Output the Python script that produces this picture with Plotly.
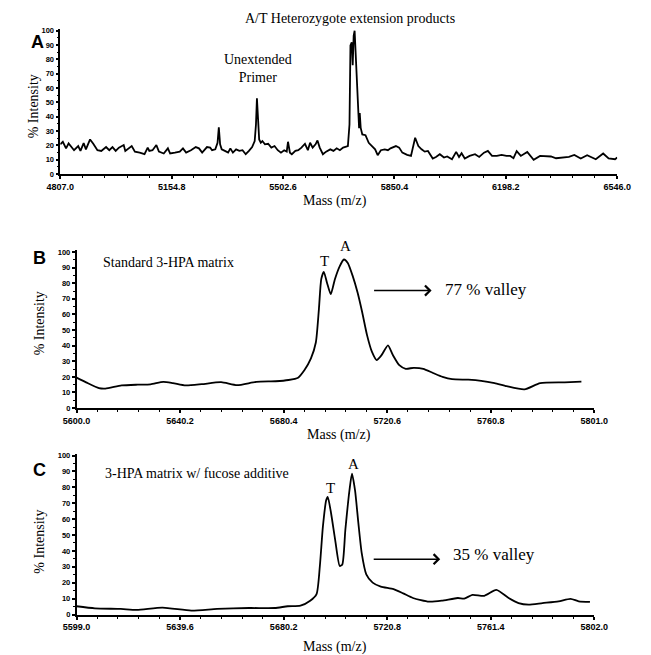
import numpy as np
import plotly.graph_objects as go

# ---------------- data ----------------
massA = [4807, 4815, 4825, 4833, 4850, 4863, 4870, 4880, 4887, 4900, 4910, 4923, 4935, 4950, 4960, 4970,
         4980, 4990, 5005, 5010, 5030, 5040, 5055, 5070, 5080, 5085, 5095, 5107, 5115, 5130, 5143, 5150,
         5165, 5180, 5190, 5200, 5215, 5230, 5240, 5250, 5265, 5275, 5281, 5291, 5298, 5302, 5306, 5311,
         5321, 5331, 5338, 5346, 5356, 5366, 5376, 5386, 5396, 5406, 5414, 5418, 5421, 5424, 5428, 5433,
         5438, 5446, 5456, 5466, 5476, 5486, 5496, 5506, 5514, 5518, 5524, 5530, 5541, 5550, 5560, 5571,
         5580, 5587, 5595, 5604, 5610, 5617, 5627, 5637, 5650, 5660, 5670, 5680, 5690, 5705, 5710, 5713,
         5717, 5720, 5723, 5726, 5730, 5735, 5740, 5742, 5745, 5750, 5760, 5770, 5780, 5790, 5798, 5808,
         5820, 5830, 5838, 5845, 5855, 5865, 5875, 5890, 5902, 5915, 5925, 5935, 5945, 5955, 5970, 5980,
         5992, 6005, 6015, 6030, 6043, 6052, 6060, 6070, 6085, 6102, 6115, 6130, 6142, 6155, 6170, 6185,
         6200, 6212, 6222, 6232, 6245, 6265, 6285, 6305, 6339, 6355, 6379, 6395, 6412, 6432, 6452, 6479,
         6502, 6519, 6539, 6546]
intA = [20.7, 22.5, 17.9, 21.4, 16.6, 19.5, 16.1, 21.6, 17.2, 24.1, 21.1, 16.6, 16.1, 18.8, 16.6, 18.8,
        16.1, 18.4, 20.2, 16.1, 19.5, 15.6, 14.9, 13.8, 18.4, 16.1, 16.6, 20.2, 15.6, 14.3, 17.9, 14.3,
        14.9, 15.6, 17.9, 14.9, 16.6, 18.8, 17.9, 14.9, 18.8, 18.4, 16.6, 17.2, 21.8, 32.6, 20.7, 17.2,
        16.1, 14.9, 17.9, 14.9, 17.2, 16.1, 16.6, 13.8, 16.1, 18.8, 23.0, 34.5, 52.9, 36.8, 24.1, 21.8,
        23.0, 20.7, 21.1, 18.4, 19.5, 16.6, 14.9, 16.6, 15.6, 22.5, 14.9, 13.8, 16.1, 16.6, 18.4, 21.1,
        16.6, 21.8, 18.4, 20.7, 23.4, 18.4, 13.8, 15.6, 17.2, 16.1, 17.9, 16.6, 18.4, 19.5, 34.5, 89.7,
        92.0, 75.9, 96.5, 100.0, 80.0, 57.0, 32.0, 42.5, 32.2, 27.6, 27.1, 21.8, 19.5, 17.2, 13.1, 16.6,
        17.2, 16.6, 17.9, 18.8, 19.5, 18.4, 14.9, 13.3, 12.6, 25.3, 19.5, 17.2, 15.6, 16.1, 10.8, 11.9,
        13.8, 11.5, 12.2, 10.3, 15.4, 11.9, 14.5, 10.8, 12.6, 13.8, 11.9, 14.9, 16.1, 12.6, 12.6, 13.3,
        12.6, 12.6, 11.0, 16.0, 12.6, 15.4, 9.9, 12.6, 12.2, 11.0, 11.5, 12.0, 13.3, 10.8, 13.1, 10.3,
        14.3, 10.8, 10.3, 11.5]

massB = [5600, 5603.7, 5608.7, 5611.2, 5617.5, 5623.7, 5628.7, 5633.7, 5637.4, 5642.4, 5648.6, 5656.1,
         5662.3, 5669.8, 5677.3, 5682.3, 5686, 5688.5, 5691, 5692.9, 5694.1, 5695, 5696, 5697.2, 5698.7,
         5700.3, 5702.2, 5703.8, 5705.3, 5707.2, 5709.1, 5710.9, 5712.8, 5714.7, 5716.5, 5718.4, 5720.9,
         5722.8, 5725.3, 5727.8, 5730.9, 5734.6, 5738.4, 5742.1, 5745.8, 5752.1, 5757.1, 5762.3, 5767,
         5773.9, 5780, 5789.5, 5796]
intB = [19.5, 16.5, 12.8, 12.5, 14.5, 15.0, 15.2, 16.8, 16.0, 14.5, 15.3, 16.6,
        14.7, 16.8, 17.2, 18.0, 19.5, 24.4, 31.8, 42.0, 63.6, 82.6, 87.3, 80.5, 73.0,
        82.6, 91.0, 95.2, 93.0, 84.7, 74.0, 61.4, 46.6, 36.0, 30.8, 33.9, 40.2,
        34.0, 27.5, 25.2, 25.8, 25.2, 22.5, 20.0, 18.5, 18.2, 17.5, 16.0, 14.0,
        12.0, 16.0, 16.5, 17.0]

massC = [5599, 5606.2, 5616.3, 5622.6, 5632.7, 5644, 5654.1, 5666.7, 5676.7, 5681.8, 5686.8, 5690.6,
         5693.1, 5694.4, 5695.6, 5696.9, 5697.5, 5698.8, 5700.4, 5702.2, 5703.2, 5704.4, 5706, 5707,
         5708.2, 5709.5, 5710.8, 5712.6, 5715.1, 5718.3, 5723.3, 5727.1, 5730.9, 5737.2, 5742.2, 5748.5,
         5751, 5754.2, 5758.9, 5763.6, 5768.4, 5772.3, 5776.2, 5781.7, 5788, 5792.7, 5795.9, 5800.3]
intC = [5.2, 3.9, 3.5, 2.9, 4.4, 2.5, 3.5, 4.1, 4.1, 5.2, 5.6, 8.7,
        12.9, 30.5, 55.4, 72.0, 74.0, 63.7, 47.0, 30.5, 31.5, 53.3, 78.0, 88.6,
        78.0, 57.5, 38.8, 25.3, 20.1, 17.6, 16.0, 13.3, 10.4, 8.1, 8.7, 10.4,
        10.0, 12.4, 11.8, 15.5, 10.4, 7.2, 6.2, 7.2, 8.3, 9.9, 8.3, 7.9]

ticksA = [4807.0, 5154.8, 5502.6, 5850.4, 6198.2, 6546.0]
ticksB = [5600.0, 5640.2, 5680.4, 5720.6, 5760.8, 5801.0]
ticksC = [5599.0, 5639.6, 5680.2, 5720.8, 5761.4, 5802.0]
yticks = [0, 10, 20, 30, 40, 50, 60, 70, 80, 90, 100]

# ---------------- layout helpers ----------------
W, H = 651, 655
def px(p):
    return p / W
def py(p):
    return 1 - p / H

SERIF = "Liberation Serif"
SANS = "Liberation Sans"
BLACK = "#000000"

fig = go.Figure()
for i, (m, v) in enumerate([(massA, intA), (massB, intB), (massC, intC)]):
    suffix = "" if i == 0 else str(i + 1)
    fig.add_trace(go.Scatter(
        x=m, y=v, mode="lines",
        line=dict(color=BLACK, width=1.8, shape="linear" if i == 0 else "spline", smoothing=0.6),
        xaxis="x" + suffix, yaxis="y" + suffix, hoverinfo="skip"))

def xaxis_cfg(domain, ticks, anchor):
    lo, hi = ticks[0], ticks[-1]
    return dict(
        domain=[px(domain[0]), px(domain[1])], anchor=anchor, range=[lo, hi],
        tickmode="array", tickvals=ticks, ticktext=[f"{t:.1f}" for t in ticks],
        showgrid=False, zeroline=False, showline=True, linewidth=2, linecolor=BLACK,
        ticks="outside", ticklen=3, tickwidth=1.5, tickcolor=BLACK,
        tickfont=dict(family=SANS, size=9, color=BLACK, weight="bold"),
        minor=dict(tickmode="array", tickvals=list(np.linspace(lo, hi, 26)),
                   ticks="outside", ticklen=2, tickwidth=1, tickcolor=BLACK),
    )

def yaxis_cfg(p0, p100, anchor):
    top = p0 - (p0 - p100) * 1.01
    return dict(
        domain=[py(p0), py(top)], anchor=anchor, range=[0, 101],
        tickmode="array", tickvals=yticks, ticktext=[str(t) for t in yticks],
        showgrid=False, zeroline=False, showline=True, linewidth=1.5, linecolor=BLACK,
        ticks="outside", ticklen=3, tickwidth=1.5, tickcolor=BLACK,
        tickfont=dict(family=SANS, size=7.5, color=BLACK, weight="bold"),
        minor=dict(tickmode="array", tickvals=list(range(5, 100, 10)),
                   ticks="outside", ticklen=2, tickwidth=1, tickcolor=BLACK),
    )

fig.update_layout(
    width=W, height=H, margin=dict(l=0, r=0, t=0, b=0),
    paper_bgcolor="white", plot_bgcolor="white", showlegend=False,
    xaxis=xaxis_cfg((40, 622), ticksA, "y"),
    yaxis=yaxis_cfg(165, 20, "x"),
    xaxis2=xaxis_cfg((57, 598), ticksB, "y2"),
    yaxis2=yaxis_cfg(402, 244, "x2"),
    xaxis3=xaxis_cfg((57, 598), ticksC, "y3"),
    yaxis3=yaxis_cfg(611, 450, "x3"),
)

def text(t, x, y, size=14, family=SERIF, xanchor="center", angle=0, bold=False):
    fig.add_annotation(
        text=t, x=px(x), y=py(y), xref="paper", yref="paper", showarrow=False,
        xanchor=xanchor, yanchor="middle", textangle=angle,
        font=dict(family=family, size=size, color=BLACK, weight="bold" if bold else "normal"))

def arrow(x0, x1, y):
    fig.add_annotation(
        text="", x=px(x1), y=py(y), xref="paper", yref="paper",
        ax=-(x1 - x0), ay=0, axref="pixel", ayref="pixel",
        showarrow=True, arrowhead=4, arrowsize=1.3, arrowwidth=1.5, arrowcolor=BLACK)

# Panel A
text("A/T Heterozygote extension products", 343, 8)
text("A", 16, 31, size=18, family=SANS, bold=True)
text("Unextended<br>Primer", 247, 58)
text("% Intensity", 12, 96, angle=-90)
text("Mass (m/z)", 327, 192)

# Panel B
text("B", 18, 250, size=18, family=SANS, bold=True)
text("Standard 3-HPA matrix", 83, 255, xanchor="left")
text("T", 316, 253, size=15)
text("A", 338, 238, size=15)
arrow(369, 428, 283)
text("77 % valley", 440, 282, size=17, xanchor="left")
text("% Intensity", 18, 316, angle=-90)
text("Mass (m/z)", 331, 429)

# Panel C
text("C", 18, 465, size=18, family=SANS, bold=True)
text("3-HPA matrix w/ fucose additive", 85, 468, xanchor="left")
text("T", 322, 483, size=15)
text("A", 346, 459, size=15)
arrow(369, 437, 555)
text("35 % valley", 448, 550, size=17, xanchor="left")
text("% Intensity", 18, 537, angle=-90)
text("Mass (m/z)", 327, 644)

fig.write_html("out.html")
